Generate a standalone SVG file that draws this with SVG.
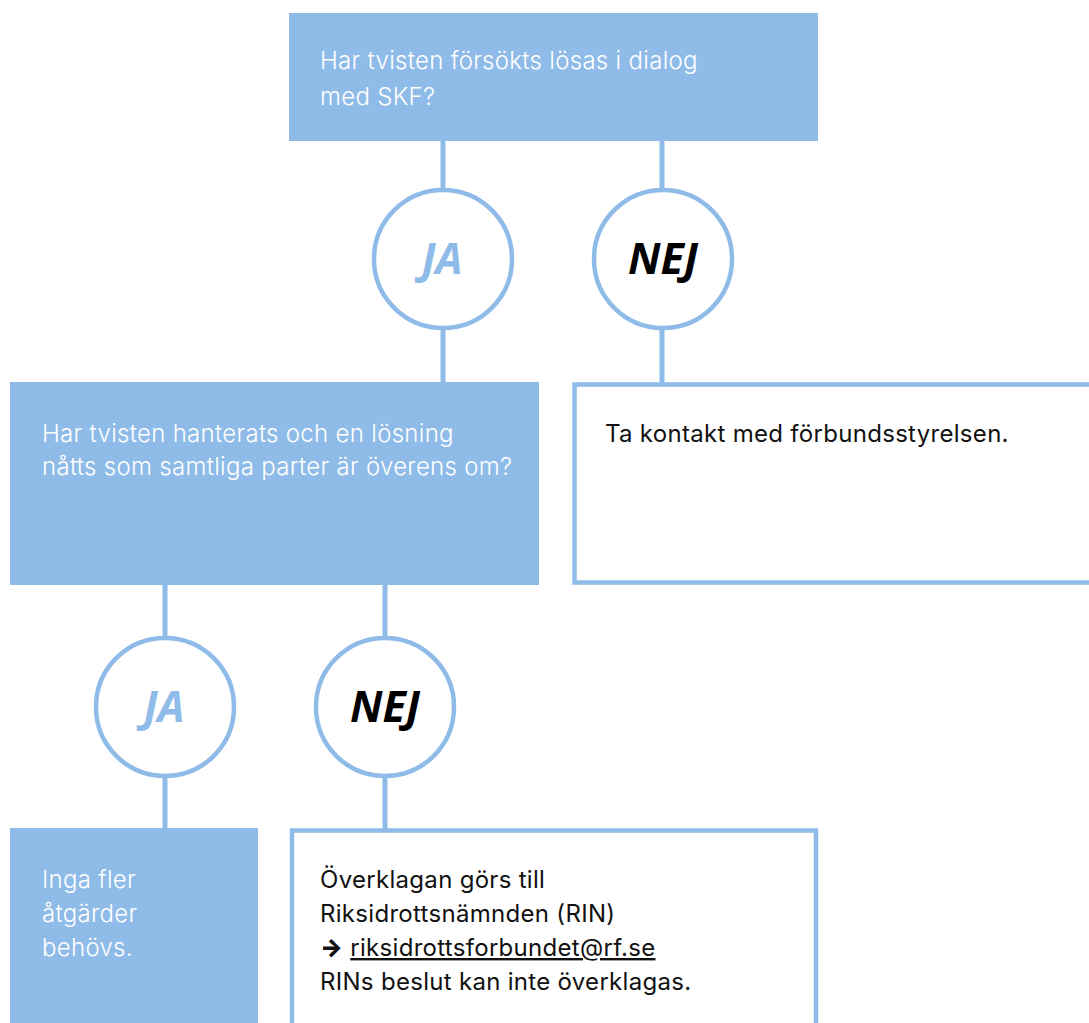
<svg xmlns="http://www.w3.org/2000/svg" width="1089" height="1023" viewBox="0 0 1089 1023">
<style>
.fill{fill:#8fbbe8}
.outline{fill:#ffffff;stroke:#8fbbe8;stroke-width:4.5}
.circ{fill:#ffffff;stroke:#8fbbe8;stroke-width:4.5}
.conn{stroke:#8fbbe8;stroke-width:5;fill:none}
.t{font-family:Inter,"Open Sans",sans-serif;font-size:24px;letter-spacing:0.3px}
.w{fill:#ffffff;font-weight:300}
.k{fill:#111111}
.ja{font-family:"Open Sans",Lato,sans-serif;font-size:43px;font-weight:700;font-style:italic;fill:#8fbbe8;text-anchor:middle}
.nej{font-family:"Open Sans",Lato,sans-serif;font-size:43px;font-weight:700;font-style:italic;fill:#000000;text-anchor:middle}
</style>
<g id="connectors">
<line class="conn" x1="443" y1="141" x2="443" y2="190"/>
<line class="conn" x1="662" y1="141" x2="662" y2="190"/>
<line class="conn" x1="443" y1="328" x2="443" y2="383"/>
<line class="conn" x1="662" y1="328" x2="662" y2="383"/>
<line class="conn" x1="165" y1="585" x2="165" y2="638"/>
<line class="conn" x1="385" y1="585" x2="385" y2="638"/>
<line class="conn" x1="165" y1="776" x2="165" y2="829"/>
<line class="conn" x1="385" y1="776" x2="385" y2="829"/>
</g>
<g id="q1">
<rect class="fill" x="289" y="13" width="529" height="128"/>
<text class="t w" x="320" y="69">Har tvisten försökts lösas i dialog</text>
<text class="t w" x="320" y="105">med SKF?</text>
</g>
<g id="ja1">
<circle class="circ" cx="443" cy="259" r="69"/>
<text class="ja" x="442" y="274">JA</text>
</g>
<g id="nej1">
<circle class="circ" cx="663" cy="259" r="69"/>
<text class="nej" x="663" y="274">NEJ</text>
</g>
<g id="q2">
<rect class="fill" x="10" y="382" width="529" height="203"/>
<text class="t w" x="42" y="442">Har tvisten hanterats och en lösning</text>
<text class="t w" x="42" y="475">nåtts som samtliga parter är överens om?</text>
</g>
<g id="contact">
<rect class="outline" x="574.5" y="384.5" width="530" height="198"/>
<text class="t k" x="605" y="442">Ta kontakt med förbundsstyrelsen.</text>
</g>
<g id="ja2">
<circle class="circ" cx="165" cy="707" r="69"/>
<text class="ja" x="164" y="722">JA</text>
</g>
<g id="nej2">
<circle class="circ" cx="385" cy="707" r="69"/>
<text class="nej" x="385" y="722">NEJ</text>
</g>
<g id="noaction">
<rect class="fill" x="10" y="828" width="248" height="200"/>
<text class="t w" x="42" y="888">Inga fler</text>
<text class="t w" x="42" y="922">åtgärder</text>
<text class="t w" x="42" y="956">behövs.</text>
</g>
<g id="appeal">
<rect class="outline" x="292" y="830.5" width="524" height="200"/>
<text class="t k" x="320" y="888">Överklagan görs till</text>
<text class="t k" x="320" y="922">Riksidrottsnämnden (RIN)</text>
<text class="t k" x="320" y="956"><tspan font-weight="900">→</tspan> <tspan text-decoration="underline">riksidrottsforbundet@rf.se</tspan></text>
<text class="t k" x="320" y="990">RINs beslut kan inte överklagas.</text>
</g>
</svg>
